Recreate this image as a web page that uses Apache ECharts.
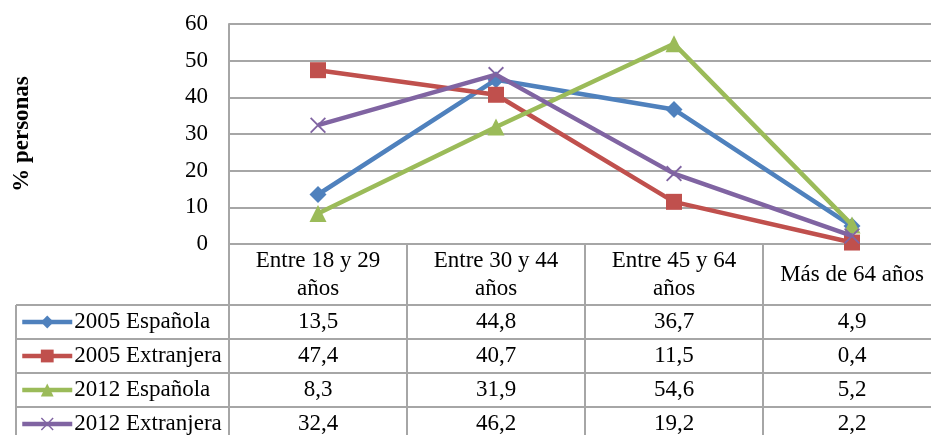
<!DOCTYPE html>
<html>
<head>
<meta charset="utf-8">
<script src="https://cdn.jsdelivr.net/npm/echarts@6/dist/echarts.min.js"></script>
<style>
html,body{margin:0;padding:0;background:#fff;}
#chart{width:931px;height:435px;}
</style>
</head>
<body>
<div id="chart"></div>
<script>
const categories = ['Entre 18 y 29 años', 'Entre 30 y 44 años', 'Entre 45 y 64 años', 'Más de 64 años'];
const seriesNames = ['2005 Española', '2005 Extranjera', '2012 Española', '2012 Extranjera'];
const esp2005 = [13.5, 44.8, 36.7, 4.9];
const ext2005 = [47.4, 40.7, 11.5, 0.4];
const esp2012 = [8.3, 31.9, 54.6, 5.2];
const ext2012 = [32.4, 46.2, 19.2, 2.2];
const yTicks = [0, 10, 20, 30, 40, 50, 60];
const yTitle = '% personas';

const allData = [esp2005, ext2005, esp2012, ext2012];
const colors = ['#4F81BD', '#C0504D', '#9BBB59', '#8064A2'];
const symbols = ['diamond', 'rect', 'triangle',
  'path://M0,0.8L0.8,0L5,4.2L9.2,0L10,0.8L5.8,5L10,9.2L9.2,10L5,5.8L0.8,10L0,9.2L4.2,5Z'];
const symbolSizes = [17, 16, 17, 16];

const FONT = 'Liberation Serif, Times New Roman, serif';
const FS = 23;
const GRID_LEFT = 229, GRID_TOP = 24, GRID_W = 712, GRID_H = 220;
const AXIS_Y = GRID_TOP + GRID_H;
const HEADER_H = 61, ROW_H = 34, TABLE_LEFT = 16;
const LINE_COLOR = '#a6a6a6';

const fmt = v => String(v).replace('.', ',');
// wrap long category names before their last word (as the cell width does)
const wrapLabel = v => v.length > 15 ? v.replace(/ (\S+)$/, '\n$1') : v;

const chart = echarts.init(document.getElementById('chart'), null, {renderer: 'canvas'});

const series = seriesNames.map((name, i) => ({
  name: name,
  type: 'line',
  data: allData[i],
  symbol: symbols[i],
  symbolSize: symbolSizes[i],
  showAllSymbol: true,
  lineStyle: {color: colors[i], width: 4.5},
  itemStyle: {color: colors[i]},
  animation: false,
  z: 3 + i
}));

const option = {
  animation: false,
  backgroundColor: '#fff',
  grid: {left: GRID_LEFT, top: GRID_TOP, width: GRID_W, height: GRID_H, containLabel: false, outerBoundsMode: 'none'},
  legend: {
    orient: 'vertical',
    left: TABLE_LEFT + 4,
    top: AXIS_Y + HEADER_H,
    height: 300,
    width: 220,
    itemWidth: 50,
    itemHeight: 16,
    itemGap: 0,
    padding: 0,
    data: seriesNames,
    lineStyle: {width: 4.5},
    textStyle: {fontFamily: FONT, fontSize: FS, color: '#000', lineHeight: ROW_H, padding: [0, 0, 0, -3]},
    selectedMode: false
  },
  xAxis: {
    type: 'category',
    data: categories,
    boundaryGap: true,
    axisLine: {show: true, lineStyle: {color: LINE_COLOR, width: 2}},
    axisTick: {show: true, length: 200, lineStyle: {color: LINE_COLOR, width: 2}},
    axisLabel: {
      interval: 0,
      fontFamily: FONT, fontSize: FS, color: '#000',
      margin: 31, verticalAlign: 'middle', lineHeight: 28,
      align: 'center', hideOverlap: false,
      formatter: wrapLabel
    },
    splitLine: {show: false}
  },
  yAxis: {
    type: 'value',
    min: 0, max: 60, interval: 10,
    name: yTitle,
    nameLocation: 'middle',
    nameGap: 195,
    nameRotate: 90,
    nameTextStyle: {fontFamily: FONT, fontSize: FS, fontWeight: 'bold', color: '#000'},
    axisLine: {show: true, lineStyle: {color: LINE_COLOR, width: 2}},
    axisTick: {show: false},
    axisLabel: {fontFamily: FONT, fontSize: FS, color: '#000', margin: 21,
      formatter: v => yTicks.includes(v) ? String(v) : ''},
    splitLine: {show: true, lineStyle: {color: LINE_COLOR, width: 2}}
  },
  series: series
};

chart.setOption(option);

// Table: horizontal lines, left border, and value cells
const graphics = [];
const W = 931;
const rowTop = AXIS_Y + HEADER_H;
for (let r = 0; r <= seriesNames.length; r++) {
  const y = rowTop + r * ROW_H;
  graphics.push({type: 'line', silent: true, z: 1,
    shape: {x1: TABLE_LEFT, y1: y, x2: W + 20, y2: y},
    style: {stroke: LINE_COLOR, lineWidth: 2}});
}
graphics.push({type: 'line', silent: true, z: 1,
  shape: {x1: TABLE_LEFT, y1: rowTop, x2: TABLE_LEFT, y2: rowTop + seriesNames.length * ROW_H + 10},
  style: {stroke: LINE_COLOR, lineWidth: 2}});

allData.forEach((arr, r) => {
  arr.forEach((v, c) => {
    const px = chart.convertToPixel({xAxisIndex: 0}, categories[c]);
    graphics.push({type: 'text', silent: true, z: 5,
      x: px, y: rowTop + r * ROW_H + ROW_H / 2,
      style: {text: fmt(v), fontFamily: FONT, fontSize: FS, fill: '#000',
        align: 'center', verticalAlign: 'middle'}});
  });
});

chart.setOption({graphic: graphics});
</script>
</body>
</html>
